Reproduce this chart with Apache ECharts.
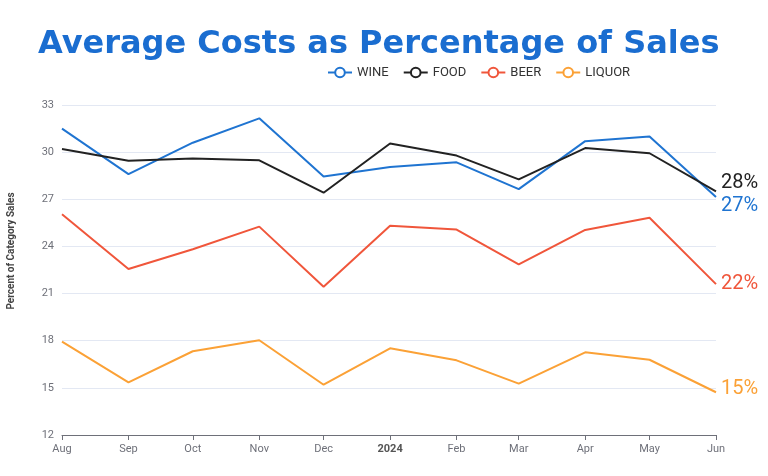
<!DOCTYPE html>
<html>
<head>
<meta charset="utf-8">
<script src="https://cdn.jsdelivr.net/npm/echarts@6/dist/echarts.min.js"></script>
<style>html,body{margin:0;padding:0;background:#fff}#c{width:768px;height:476px}</style>
</head>
<body>
<div id="c"></div>
<script>
const months = ['2023-08-01','2023-09-01','2023-10-01','2023-11-01','2023-12-01','2024-01-01','2024-02-01','2024-03-01','2024-04-01','2024-05-01','2024-06-01'];
const wine   = [31.5, 28.6, 30.6, 32.15, 28.45, 29.05, 29.35, 27.65, 30.7, 31.0, 27.15];
const food   = [30.2, 29.45, 29.6, 29.48, 27.42, 30.55, 29.78, 28.27, 30.26, 29.93, 27.5];
const beer   = [26.05, 22.56, 23.82, 25.26, 21.44, 25.32, 25.07, 22.86, 25.05, 25.83, 21.6];
const liquor = [17.94, 15.35, 17.33, 18.03, 15.2, 17.52, 16.75, 15.27, 17.26, 16.79, 14.72];
const seriesNames = ['WINE','FOOD','BEER','LIQUOR'];
const monthNames = ['Jan','Feb','Mar','Apr','May','Jun','Jul','Aug','Sep','Oct','Nov','Dec'];

const colors = ['#1f74d1','#222222','#f0563b','#fba136'];
const endOffsets = [[-3,9],[-3,-8],[-3,0],[-3,-3]];
const allData = [wine, food, beer, liquor];

const chart = echarts.init(document.getElementById('c'), null, {renderer:'canvas'});
chart.setOption({
  animation: false,
  color: colors,
  title: {
    text: 'Average Costs as Percentage of Sales',
    left: 33, top: 24,
    textStyle: {fontFamily: 'DejaVu Sans', fontWeight: 'bold', fontSize: 32, color: '#1a6dd0'}
  },
  legend: {
    left: 322, top: 61, itemWidth: 24, itemHeight: 12, itemGap: 14,
    textStyle: {fontFamily: 'Roboto', fontSize: 13, color: '#333'},
    data: seriesNames
  },
  grid: {left: 62, right: 52, top: 105, bottom: 41, outerBoundsMode: 'none', containLabel: false},
  xAxis: {
    type: 'time',
    min: months[0], max: months[months.length-1],
    minInterval: 28*86400000, maxInterval: 31*86400000,
    axisLine: {lineStyle: {color: '#6e7079'}},
    axisTick: {lineStyle: {color: '#6e7079'}},
    splitLine: {show: false},
    axisLabel: {
      color: '#6e7079', fontFamily: 'Roboto', fontSize: 11, margin: 9,
      formatter: function (v) {
        const d = new Date(v);
        if (d.getMonth() === 0) return '{b|' + d.getFullYear() + '}';
        return monthNames[d.getMonth()];
      },
      rich: {b: {fontWeight: 'bold', color: '#555', fontSize: 11, fontFamily: 'Roboto'}}
    }
  },
  yAxis: {
    type: 'value', min: 12, max: 33, interval: 3,
    name: 'Percent of Category Sales', nameLocation: 'middle', nameGap: 46,
    nameTextStyle: {fontFamily: 'Roboto', fontSize: 10, fontWeight: 'bold', color: '#444', padding: [0, 0, 0, 38]},
    axisLine: {show: false}, axisTick: {show: false},
    axisLabel: {color: '#6e7079', fontFamily: 'Roboto', fontSize: 11, margin: 8},
    splitLine: {lineStyle: {color: '#e3e8f3'}}
  },
  series: seriesNames.map((n, i) => ({
    name: n, type: 'line', symbol: 'emptyCircle', symbolSize: 8, showSymbol: false,
    lineStyle: {width: 2, color: colors[i]},
    itemStyle: {color: colors[i]},
    data: months.map((m, j) => [m, allData[i][j]]),
    endLabel: {
      show: true, color: colors[i], fontFamily: 'Roboto', fontSize: 20,
      offset: endOffsets[i],
      formatter: p => Math.round(p.value[1]) + '%'
    }
  }))
});
</script>
</body>
</html>
